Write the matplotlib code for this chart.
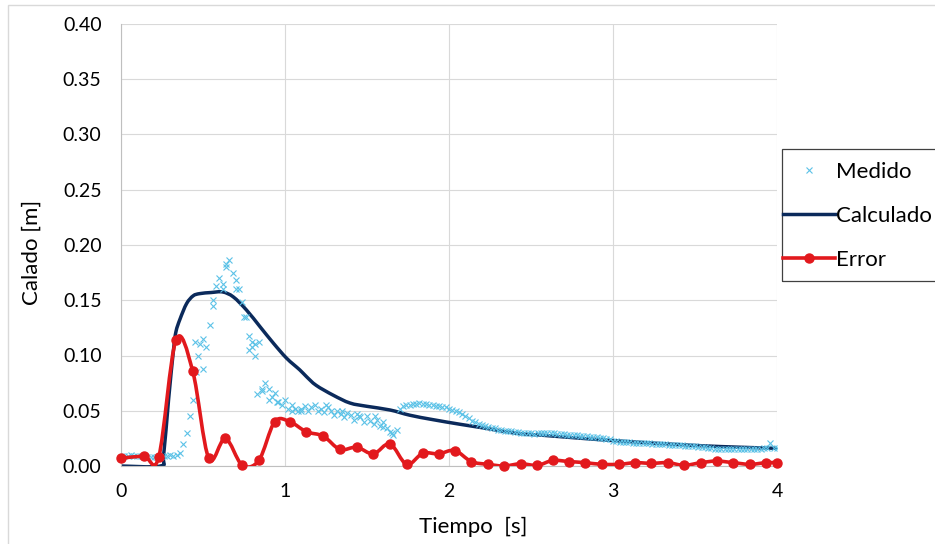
# Calado medido / calculado / error
import numpy as np
import matplotlib
matplotlib.use("Agg")
import matplotlib.pyplot as plt
from matplotlib.path import Path
from matplotlib.patches import PathPatch, Rectangle
from matplotlib.lines import Line2D

plt.rcParams['font.family'] = ['Lato', 'DejaVu Sans']

# ---- data ----
# Medido: one reading every 0.02 s from t = 0
dt_medido = 0.02
h_medido = [
    0.009, 0.009, 0.009, 0.010, 0.009, 0.009, 0.009, 0.009, 0.008, 0.008,  # 0.00-0.18
    0.008, 0.008, 0.008, 0.009, 0.009, 0.010, 0.009, 0.010, 0.012, 0.020,  # 0.20-0.38
    0.030, 0.045, 0.060, 0.085, 0.110, 0.088, 0.108, 0.128, 0.150, 0.163,  # 0.40-0.58
    0.170, 0.165, 0.183, 0.186, 0.175, 0.168, 0.160, 0.148, 0.135, 0.118,  # 0.60-0.78
    0.108, 0.100, 0.112, 0.068, 0.075, 0.070, 0.062, 0.066, 0.058, 0.055,  # 0.80-0.98
    0.060, 0.052, 0.050, 0.052, 0.050, 0.052, 0.054, 0.050, 0.053, 0.055,  # 1.00-1.18
    0.050, 0.052, 0.049, 0.053, 0.050, 0.046, 0.050, 0.047, 0.044, 0.048,  # 1.20-1.38
    0.046, 0.042, 0.047, 0.044, 0.040, 0.045, 0.041, 0.038, 0.042, 0.036,  # 1.40-1.58
    0.040, 0.034, 0.031, 0.028, 0.033, 0.052, 0.054, 0.055, 0.055, 0.056,  # 1.60-1.78
    0.056, 0.057, 0.056, 0.056, 0.055, 0.055, 0.054, 0.054, 0.053, 0.053,  # 1.80-1.98
    0.052, 0.051, 0.050, 0.049, 0.047, 0.045, 0.043, 0.041, 0.040, 0.038,  # 2.00-2.18
    0.037, 0.036, 0.035, 0.034, 0.034, 0.033, 0.033, 0.032, 0.032, 0.032,  # 2.20-2.38
    0.031, 0.031, 0.030, 0.030, 0.030, 0.030, 0.029, 0.030, 0.030, 0.030,  # 2.40-2.58
    0.030, 0.030, 0.030, 0.029, 0.029, 0.029, 0.028, 0.028, 0.028, 0.028,  # 2.60-2.78
    0.027, 0.027, 0.027, 0.026, 0.026, 0.026, 0.025, 0.025, 0.024, 0.024,  # 2.80-2.98
    0.023, 0.023, 0.022, 0.022, 0.022, 0.022, 0.021, 0.021, 0.021, 0.021,  # 3.00-3.18
    0.021, 0.021, 0.020, 0.020, 0.020, 0.020, 0.020, 0.019, 0.019, 0.019,  # 3.20-3.38
    0.019, 0.019, 0.018, 0.018, 0.018, 0.018, 0.017, 0.017, 0.017, 0.016,  # 3.40-3.58
    0.016, 0.015, 0.015, 0.015, 0.015, 0.015, 0.015, 0.015, 0.015, 0.015,  # 3.60-3.78
    0.015, 0.015, 0.015, 0.015, 0.015, 0.015, 0.016, 0.016, 0.021, 0.016,  # 3.80-3.98
    0.016,                                                                  # 4.00
]
# extra scattered readings in the surge
t_medido_extra = [0.45, 0.47, 0.50, 0.56, 0.62, 0.64, 0.70, 0.75, 0.78, 0.80,
                  0.82, 0.83, 0.86, 0.90, 0.95, 1.04, 1.10, 1.25, 1.35, 1.45,
                  1.55, 1.60, 1.65]
h_medido_extra = [0.112, 0.100, 0.115, 0.145, 0.160, 0.180, 0.160, 0.135, 0.105, 0.112,
                  0.110, 0.065, 0.070, 0.060, 0.058, 0.055, 0.050, 0.055, 0.050, 0.045,
                  0.045, 0.035, 0.030]

t_calc = [0.0, 0.24, 0.26, 0.29, 0.32, 0.335, 0.36, 0.40, 0.44, 0.48, 0.55, 0.62,
          0.685, 0.766, 0.848, 0.93, 1.01, 1.09, 1.13, 1.19, 1.295, 1.396, 1.5,
          1.64, 1.76, 1.9, 2.07, 2.23, 2.41, 2.555, 2.76, 3.0, 3.27, 3.53, 3.77, 4.0]
h_calc = [0.0, 0.0, 0.01, 0.06, 0.105, 0.1215, 0.133, 0.147, 0.154, 0.156, 0.157, 0.1575,
          0.153, 0.141, 0.126, 0.111, 0.0975, 0.087, 0.081, 0.073, 0.064, 0.057, 0.054,
          0.0507, 0.046, 0.042, 0.0377, 0.034, 0.0296, 0.028, 0.0256, 0.023, 0.0205,
          0.0184, 0.017, 0.016]

t_error = [0.0, 0.14, 0.23, 0.335, 0.437, 0.535, 0.636, 0.738, 0.84, 0.937, 1.03,
           1.13, 1.234, 1.335, 1.437, 1.539, 1.64, 1.742, 1.84, 1.937, 2.035, 2.136,
           2.238, 2.335, 2.437, 2.539, 2.632, 2.734, 2.83, 2.933, 3.035, 3.136, 3.234,
           3.335, 3.433, 3.535, 3.632, 3.734, 3.835, 3.933, 4.0]
h_error = [0.007, 0.009, 0.008, 0.114, 0.086, 0.007, 0.025, 0.001, 0.005, 0.040, 0.040,
           0.031, 0.027, 0.015, 0.017, 0.011, 0.020, 0.0015, 0.0115, 0.011, 0.014, 0.004,
           0.0015, 0.0, 0.002, 0.0006, 0.005, 0.004, 0.003, 0.0015, 0.0015, 0.003, 0.0024,
           0.003, 0.0006, 0.003, 0.0045, 0.003, 0.0015, 0.003, 0.003]

c_medido = '#5BC2E7'
c_calc = '#0B2A5B'
c_error = '#E2191D'


def smooth_path(x, y):
    # smoothed line like the spreadsheet: cubic bezier through every point
    pts = np.column_stack([x, y]).astype(float)
    n = len(pts)
    verts = [pts[0]]
    codes = [Path.MOVETO]
    for i in range(n - 1):
        p0 = pts[max(i - 1, 0)]
        p1 = pts[i]
        p2 = pts[i + 1]
        p3 = pts[min(i + 2, n - 1)]
        verts += [p1 + (p2 - p0) / 6, p2 - (p3 - p1) / 6, p2]
        codes += [Path.CURVE4] * 3
    return Path(verts, codes)


fig = plt.figure(figsize=(9.35, 5.44), dpi=100)
ax = fig.add_axes([121 / 935, 78 / 544, 656 / 935, 442 / 544])

# outer chart frame
fig.patches.append(Rectangle((8 / 935, -0.1), 1.2, 1.1 - 5 / 544,
                             transform=fig.transFigure, fill=False,
                             edgecolor='#D9D9D9', lw=1))

t_medido = np.arange(len(h_medido)) * dt_medido
ax.plot(t_medido, h_medido, ls='none', marker='x', ms=5, mew=0.8, color=c_medido)
ax.plot(t_medido_extra, h_medido_extra, ls='none', marker='x', ms=5, mew=0.8, color=c_medido)

ax.add_patch(PathPatch(smooth_path(t_calc, h_calc), fill=False, edgecolor=c_calc,
                       lw=2.5, capstyle='round', joinstyle='round'))
ax.add_patch(PathPatch(smooth_path(t_error, h_error), fill=False, edgecolor=c_error,
                       lw=2.6, capstyle='round', joinstyle='round', zorder=3))
ax.plot(t_error, h_error, ls='none', marker='o', ms=6.5, color=c_error, clip_on=False, zorder=4)

ax.set_xlim(0, 4)
ax.set_ylim(0, 0.40)
ax.set_xticks([0, 1, 2, 3, 4])
ax.set_yticks(np.arange(0, 0.41, 0.05))
ax.set_yticklabels([f'{v:.2f}' for v in np.arange(0, 0.41, 0.05)])
ax.grid(True, color='#D9D9D9', lw=0.8)
ax.set_axisbelow(True)
ax.tick_params(length=0, labelsize=14, colors='#000000')
ax.tick_params(axis='y', pad=14)
ax.tick_params(axis='x', pad=12)
for s in ['top', 'right']:
    ax.spines[s].set_visible(False)
for s in ['left', 'bottom']:
    ax.spines[s].set_color('#BFBFBF')
    ax.spines[s].set_linewidth(0.8)

ax.set_xlabel('Tiempo  [s]', fontsize=16)
ax.set_ylabel('Calado [m]', fontsize=16)
ax.xaxis.label.set_va('center')
ax.yaxis.label.set_va('center')
ax.xaxis.set_label_coords(0.537, -0.137)
ax.yaxis.set_label_coords(-0.1357, 0.484)

handles = [
    Line2D([], [], ls='none', marker='x', ms=5, mew=0.8, color=c_medido),
    Line2D([], [], color=c_calc, lw=2.5),
    Line2D([], [], color=c_error, lw=2.6, marker='o', ms=6.5),
]
fig.legend(handles, ['Medido', 'Calculado', 'Error'], loc='upper left',
           bbox_to_anchor=(783 / 935, 1 - 162 / 544), frameon=False, fontsize=16,
           borderpad=0, borderaxespad=0, handlelength=2.35, handletextpad=0.05,
           labelspacing=1.08)
fig.patches.append(Rectangle((782 / 935, 1 - 281 / 544), 0.3, 132 / 544,
                             transform=fig.transFigure, fill=False,
                             edgecolor='#404040', lw=0.9))

fig.savefig('out.png', dpi=100)
